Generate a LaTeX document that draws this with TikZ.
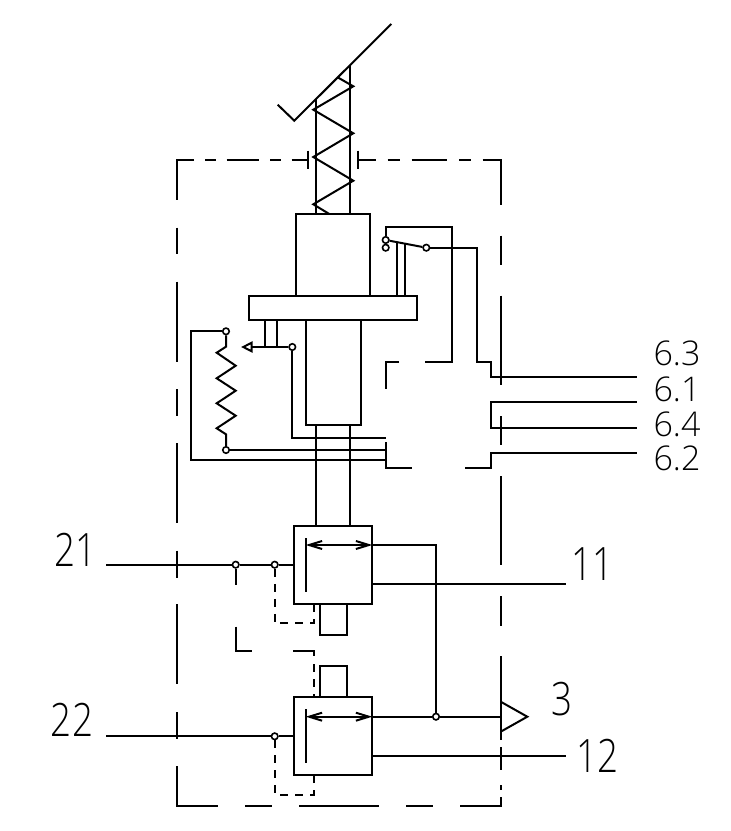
\documentclass[tikz,border=0pt]{standalone}
\usepackage{fontspec}
\usetikzlibrary{arrows.meta}
\setmainfont{Open Sans Light}
\tikzset{
  x=1pt,y=-1pt,
  wire/.style={line width=2pt,line join=miter,line cap=butt},
  box/.style={draw,line width=2pt,rectangle,inner sep=0pt,outer sep=0pt},
  dot/.style={draw,line width=1.6pt,circle,fill=white,minimum size=6.5pt,inner sep=0pt},
  lbl/.style={inner sep=0pt,font=\fontsize{34}{34}\selectfont},
  biglbl/.style={inner sep=0pt,font=\fontsize{46}{46}\selectfont,xscale=0.8},
  short/.style={dash pattern=on 8pt off 7pt},
  biarrow/.style={{Straight Barb[length=13pt,width=8pt]}-{Straight Barb[length=13pt,width=8pt]}}
}
\begin{document}
\begin{tikzpicture}[every path/.append style={wire}]
\useasboundingbox (0,0) rectangle (731,831);
% outer dash-dot frame
\draw (194,160) -- (177.3,160) -- (177.3,200);
\draw (205,160)--(215.7,160) (226.7,160)--(259,160) (270,160)--(280.7,160) (291.7,160)--(308.3,160);
\draw (308.3,150.7)--(308.3,169.3) (357.5,150.7)--(357.5,169.3);
\draw (357.5,160)--(376,160) (387.7,160)--(400,160) (411.7,160)--(447.3,160) (459.3,160)--(471,160);
\draw (482.7,160)--(500.7,160)--(500.7,205);
\draw (177.3,227.7)--(177.3,254.3) (177.3,281.7)--(177.3,361.7) (177.3,389)--(177.3,416) (177.3,443)--(177.3,523)
      (177.3,550.7)--(177.3,577.7) (177.3,604.3)--(177.3,684.3) (177.3,712)--(177.3,739);
\draw (177.3,766)--(177.3,806)--(217.7,806) (245,806)--(271.7,806) (299,806)--(379,806) (406.3,806)--(433.3,806);
\draw (460.3,806)--(500.7,806)--(500.7,796.7);
\draw (500.7,235.7)--(500.7,265) (500.7,295.7)--(500.7,385) (500.7,416)--(500.7,445) (500.7,476)--(500.7,565)
      (500.7,596)--(500.7,626) (500.7,656)--(500.7,740) (500.7,747.3)--(500.7,770) (500.7,785)--(500.7,790);
% triangle
\draw (500.7,701.7)--(527.3,716.7)--(500.7,731.7);
% top lever and spring
\coordinate (leverTip) at (391.3,24);
\coordinate (leverBend) at (294.3,120.7);
\coordinate (leverEnd) at (277.7,104.7);
\draw (leverEnd)--(leverBend)--(leverTip);
\draw (316.3,99.3)--(316.3,214) (349.7,66)--(349.7,214);
\draw (338.3,77.7)--(353.3,86.3)--(313.3,109.7)--(353.3,133.3)--(313.3,157)--(353.3,180.7)--(313.3,204.3)--(329.3,214);
% cylinder
\node[box,minimum width=73.7pt,minimum height=82pt] (upper) at (333.15,255) {};
\node[box,minimum width=167.4pt,minimum height=24pt] (flange) at (333,308) {};
\node[box,minimum width=54.7pt,minimum height=105pt] (lower) at (333.35,372.5) {};
\draw (316.3,425)--(316.3,525.7) (349.7,425)--(349.7,525.7);
% switch
\node[dot] (swA) at (385.7,240) {};
\node[dot] (swB) at (385.7,247.7) {};
\node[dot] (swC) at (426.3,247.7) {};
\draw (swA)--(swC);
\draw (397.3,242.2)--(397.3,296) (404.7,243.6)--(404.7,296);
\draw (swA)--(385.7,226.7)--(452,226.7)--(452,362.3)--(425,362.3);
\draw (399,362.3)--(385.7,362.3)--(385.7,388.7);
\draw (swC)--(476.7,247.7)--(476.7,362.3)--(490.7,362.3)--(490.7,377)--(636.7,377);
\draw (636.7,402)--(490.7,402)--(490.7,427.7)--(636.7,427.7);
\draw (636.7,452.7)--(490.7,452.7)--(490.7,467.7)--(464.7,467.7);
\draw (411.7,467.7)--(385.7,467.7)--(385.7,441.7);
% potentiometer
\node[dot] (potT) at (226,331.3) {};
\node[dot] (potB) at (226,450) {};
\node[dot] (wiper) at (292.3,347) {};
\draw (potT)--(226,346.7)--(216.7,352.7)--(235.7,365.7)--(216.7,378.3)--(235.7,390.7)--(216.7,403.3)--(235.7,415.7)--(216.7,428.3)--(226,434.3)--(potB);
\draw (potT)--(191.3,331.3)--(191.3,460)--(385.7,460);
\draw (potB)--(385.7,450);
\draw (wiper)--(292.3,438.3)--(385.7,438.3);
\draw (wiper)--(251.7,347);
\draw (243.3,347)--(251.7,342.7)--(251.7,351.3)--cycle;
\draw (265,320)--(265,347) (277,320)--(277,347);
% valve 1
\node[box,minimum width=78pt,minimum height=78.3pt] (v1) at (333.3,564.85) {};
\draw (305.7,538)--(305.7,591.7);
\draw[biarrow] (305.7,545)--(372.3,545);
\node[box,minimum width=27pt,minimum height=31pt,anchor=north] (s1) at (333.2,604) {};
% valve 2
\node[box,minimum width=78pt,minimum height=78.3pt] (v2) at (333.3,736.15) {};
\draw (305.7,709)--(305.7,763.3);
\draw[biarrow] (305.7,716.7)--(372.3,716.7);
\node[box,minimum width=27pt,minimum height=31pt,anchor=south] (s2) at (333.2,697) {};
% junctions
\node[dot] (j1) at (235.7,564.7) {};
\node[dot] (j2) at (274.7,564.7) {};
\node[dot] (j3) at (274.7,736.3) {};
\node[dot] (j4) at (436,716.7) {};
\draw (106,564.7)--(j1)--(j2)--(294.3,564.7);
\draw (106,736.3)--(j3)--(294.3,736.3);
\draw (372.3,545)--(436,545)--(j4);
\draw (372.3,716.7)--(j4)--(500.7,716.7);
\draw (372.3,584.3)--(565.7,584.3);
\draw (372.3,755.7)--(565.7,755.7);
% pilot lines
\draw (j1)--(235.7,585);
\draw (235.7,626.7)--(235.7,650.7)--(252.3,650.7);
\draw (293.3,650.7)--(313.7,650.7)--(313.7,656);
\draw[short] (313.7,664)--(313.7,697);
\draw[short] (j2)--(274.7,623.3)--(313.7,623.3)--(313.7,604);
\draw[short] (j3)--(274.7,794.7)--(313.7,794.7)--(313.7,775.3);
% labels
\node[biglbl] (l21) at (75.3,549.5) {21};
\node[biglbl] (l11) at (592.5,564.5) {11};
\node[biglbl] (l3) at (562,699.5) {3};
\node[biglbl] (l22) at (72,719.5) {22};
\node[biglbl] (l12) at (597.5,755.5) {12};
\node[lbl] (l63) at (677,353.7) {6.3};
\node[lbl] (l61) at (677,389.3) {6.1};
\node[lbl] (l64) at (677,424) {6.4};
\node[lbl] (l62) at (677,458.4) {6.2};
\end{tikzpicture}
\end{document}
